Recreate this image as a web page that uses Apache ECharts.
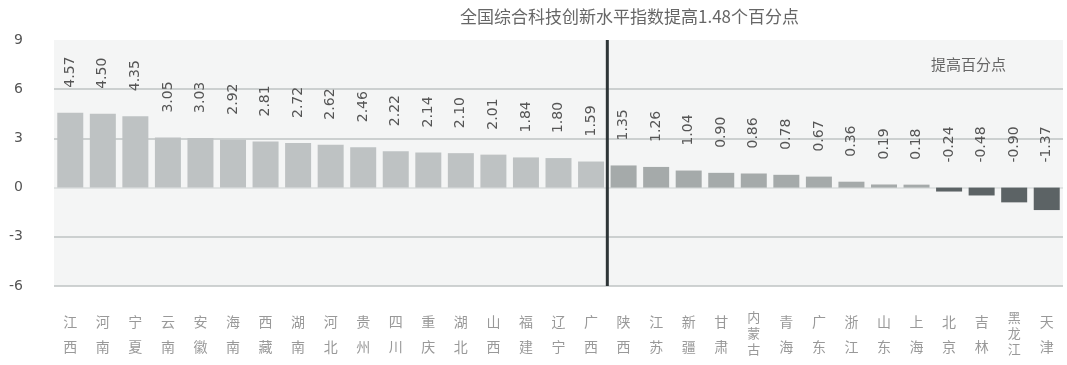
<!DOCTYPE html>
<html><head><meta charset="utf-8">
<script src="https://cdn.jsdelivr.net/npm/echarts@6/dist/echarts.min.js"></script>
<style>html,body{margin:0;padding:0;background:#fff}#c{width:1067px;height:365px}</style>
</head><body><div id="c"></div>
<script>
const provinces = ['江西','河南','宁夏','云南','安徽','海南','西藏','湖南','河北','贵州','四川','重庆','湖北','山西','福建','辽宁','广西','陕西','江苏','新疆','甘肃','内蒙古','青海','广东','浙江','山东','上海','北京','吉林','黑龙江','天津'];
const values = [4.57,4.50,4.35,3.05,3.03,2.92,2.81,2.72,2.62,2.46,2.22,2.14,2.10,2.01,1.84,1.80,1.59,1.35,1.26,1.04,0.90,0.86,0.78,0.67,0.36,0.19,0.18,-0.24,-0.48,-0.90,-1.37];
const nationalAvg = 1.48;
const yTicks = [-6,-3,0,3,6,9];
const titleText = '全国综合科技创新水平指数提高1.48个百分点';
const legendText = '提高百分点';

const dividerIdx = values.findIndex(v => v < nationalAvg);
const dividerPos = dividerIdx - 0.5;

const barData = values.map((v, i) => ({
  value: v,
  itemStyle: { color: v < 0 ? '#5c6365' : (i < dividerIdx ? '#bec2c3' : '#a5aaaa') }
}));

const chart = echarts.init(document.getElementById('c'));
chart.setOption({
  animation: false,
  backgroundColor: '#fff',
  title: [
    { text: titleText, left: 455, top: 3, textStyle: { fontSize: 17, fontWeight: 'normal', color: '#666', fontFamily: 'Noto Sans CJK SC' } },
    { text: legendText, left: 926, top: 52, textStyle: { fontSize: 15, fontWeight: 'normal', color: '#666', fontFamily: 'Noto Sans CJK SC' } }
  ],
  grid: { left: 54, right: 4, top: 40, bottom: 79, show: true, backgroundColor: '#f4f5f5', borderWidth: 0 },
  xAxis: [
    {
      type: 'category', data: provinces,
      axisLine: { show: false }, axisTick: { show: false },
      axisLabel: {
        interval: 0, margin: 23, color: '#999', fontSize: 14, fontFamily: 'Noto Sans CJK SC',
        lineHeight: 25,
        formatter: function (s) {
          if (s.length > 2) return s.split('').map(c => '{s|' + c + '}').join('\n');
          return s.split('').join('\n');
        },
        rich: { s: { fontSize: 13, lineHeight: 16, color: '#999', fontFamily: 'Noto Sans CJK SC' } }
      }
    },
    { type: 'value', min: -0.5, max: provinces.length - 0.5, show: false }
  ],
  yAxis: {
    type: 'value', min: yTicks[0], max: yTicks[yTicks.length - 1], interval: 3,
    axisLine: { show: false }, axisTick: { show: false },
    axisLabel: { color: '#555', fontSize: 14, margin: 31, fontFamily: 'DejaVu Sans' },
    splitLine: { lineStyle: { color: ['#bfc3c3','#bfc3c3','#dadcdc','#bfc3c3','#bfc3c3','rgba(0,0,0,0)'], width: 1.5 } }
  },
  series: [
    {
      type: 'bar', data: barData, barWidth: 26, xAxisIndex: 0,
      label: {
        show: true, position: 'top', rotate: 90, distance: 25,
        align: 'left', verticalAlign: 'middle',
        color: '#555', fontSize: 14, fontFamily: 'DejaVu Sans',
        formatter: p => p.value.toFixed(2)
      }
    },
    {
      type: 'line', xAxisIndex: 1, symbol: 'none',
      data: [[dividerPos, yTicks[yTicks.length - 1]], [dividerPos, yTicks[0]]],
      lineStyle: { color: '#2e3537', width: 3 }
    }
  ]
});
</script></body></html>
